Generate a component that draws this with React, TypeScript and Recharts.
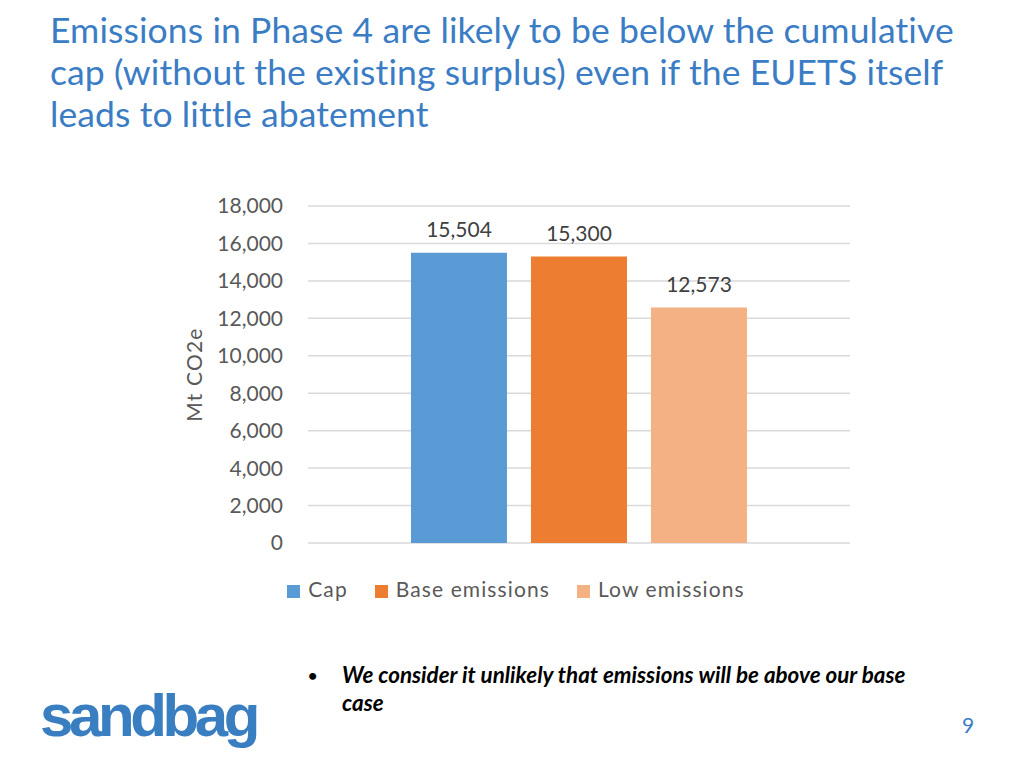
import { BarChart, Bar, XAxis, YAxis, CartesianGrid, Legend, LabelList } from "recharts";

const categories = ["Phase 4"];
const seriesNames = ["Cap", "Base emissions", "Low emissions"];
const seriesValues = [15504, 15300, 12573];
const seriesColors = ["#5B9BD5", "#ED7D31", "#F4B183"];
const yTicks = [0, 2000, 4000, 6000, 8000, 10000, 12000, 14000, 16000, 18000];

const data = categories.map((c) => {
  const row: { [key: string]: string | number } = { name: c };
  seriesNames.forEach((s, i) => {
    row[s] = seriesValues[i];
  });
  return row;
});

const font = "Lato, 'Open Sans', sans-serif";

function YLabel(props: any) {
  const vb = props.viewBox;
  const x = vb.x + 23;
  const y = vb.y + vb.height / 2;
  return (
    <text
      x={x}
      y={y}
      transform={`rotate(-90, ${x}, ${y})`}
      textAnchor="middle"
      dominantBaseline="central"
      fill="#595959"
      fontSize={21}
      letterSpacing={1.2}
      fontFamily={font}
    >
      Mt CO2e
    </text>
  );
}

export default function App() {
  return (
    <div
      style={{
        position: "absolute",
        left: 0,
        top: 0,
        width: 1024,
        height: 768,
        background: "#fff",
        fontFamily: font,
        overflow: "hidden",
      }}
    >
      <div
        style={{
          position: "absolute",
          left: 50,
          top: 9,
          width: 970,
          color: "#3B7DC4",
          fontSize: 35.5,
          lineHeight: "42px",
          letterSpacing: 0.1,
          whiteSpace: "nowrap",
        }}
      >
        Emissions in Phase 4 are likely to be below the cumulative
        <br />
        cap (without the existing surplus) even if the EUETS itself
        <br />
        leads to little abatement
      </div>

      <div style={{ position: "absolute", left: 170, top: 190 }}>
        <BarChart
          width={700}
          height={430}
          data={data}
          margin={{ top: 16, right: 20, left: 0, bottom: 20 }}
          barCategoryGap="19%"
          barGap={24}
        >
          <CartesianGrid vertical={false} stroke="#D9D9D9" strokeWidth={1.5} />
          <XAxis dataKey="name" tick={false} axisLine={false} tickLine={false} height={33} />
          <YAxis
            width={138}
            domain={[0, 18000]}
            ticks={yTicks}
            axisLine={false}
            tickLine={false}
            tickMargin={19}
            tick={{ fill: "#595959", fontSize: 21, fontFamily: font }}
            tickFormatter={(v: number) => v.toLocaleString("en-US")}
            label={<YLabel />}
          />
          <Legend
            verticalAlign="bottom"
            iconType="square"
            iconSize={13}
            itemSorter={(item: any) => seriesNames.indexOf(item.value)}
            wrapperStyle={{
              height: 24,
              paddingLeft: 11,
              fontSize: 21,
              letterSpacing: 1.1,
              fontFamily: font,
              color: "#595959",
            }}
            formatter={(value: string) => (
              <span
                style={{
                  color: "#595959",
                  marginLeft: 4,
                  marginRight: value === seriesNames[seriesNames.length - 1] ? 0 : 17,
                }}
              >
                {value}
              </span>
            )}
          />
          {seriesNames.map((s, i) => (
            <Bar key={s} dataKey={s} fill={seriesColors[i]} isAnimationActive={false}>
              <LabelList
                dataKey={s}
                position="top"
                offset={16}
                fill="#404040"
                fontSize={21}
                fontFamily={font}
                formatter={(v: number) => v.toLocaleString("en-US")}
              />
            </Bar>
          ))}
        </BarChart>
      </div>

      <div
        style={{
          position: "absolute",
          left: 308,
          top: 661,
          fontSize: 22.4,
          lineHeight: "28px",
          fontWeight: "bold",
          fontStyle: "italic",
          color: "#000",
          width: 690,
        }}
      >
        <span style={{ position: "absolute", left: 0, fontStyle: "normal", fontSize: 16 }}>•</span>
        <div style={{ marginLeft: 34 }}>
          We consider it unlikely that emissions will be above our base
          <br />
          case
        </div>
      </div>

      <div
        style={{
          position: "absolute",
          left: 40,
          top: 686,
          fontFamily: "'Liberation Sans', Arial, sans-serif",
          fontWeight: "bold",
          fontSize: 60,
          letterSpacing: -4.4,
          color: "#3A7EC2",
          lineHeight: "60px",
        }}
      >
        sandbag
      </div>

      <div
        style={{
          position: "absolute",
          left: 962,
          top: 712,
          fontSize: 21,
          color: "#3B7DC4",
        }}
      >
        9
      </div>
    </div>
  );
}
